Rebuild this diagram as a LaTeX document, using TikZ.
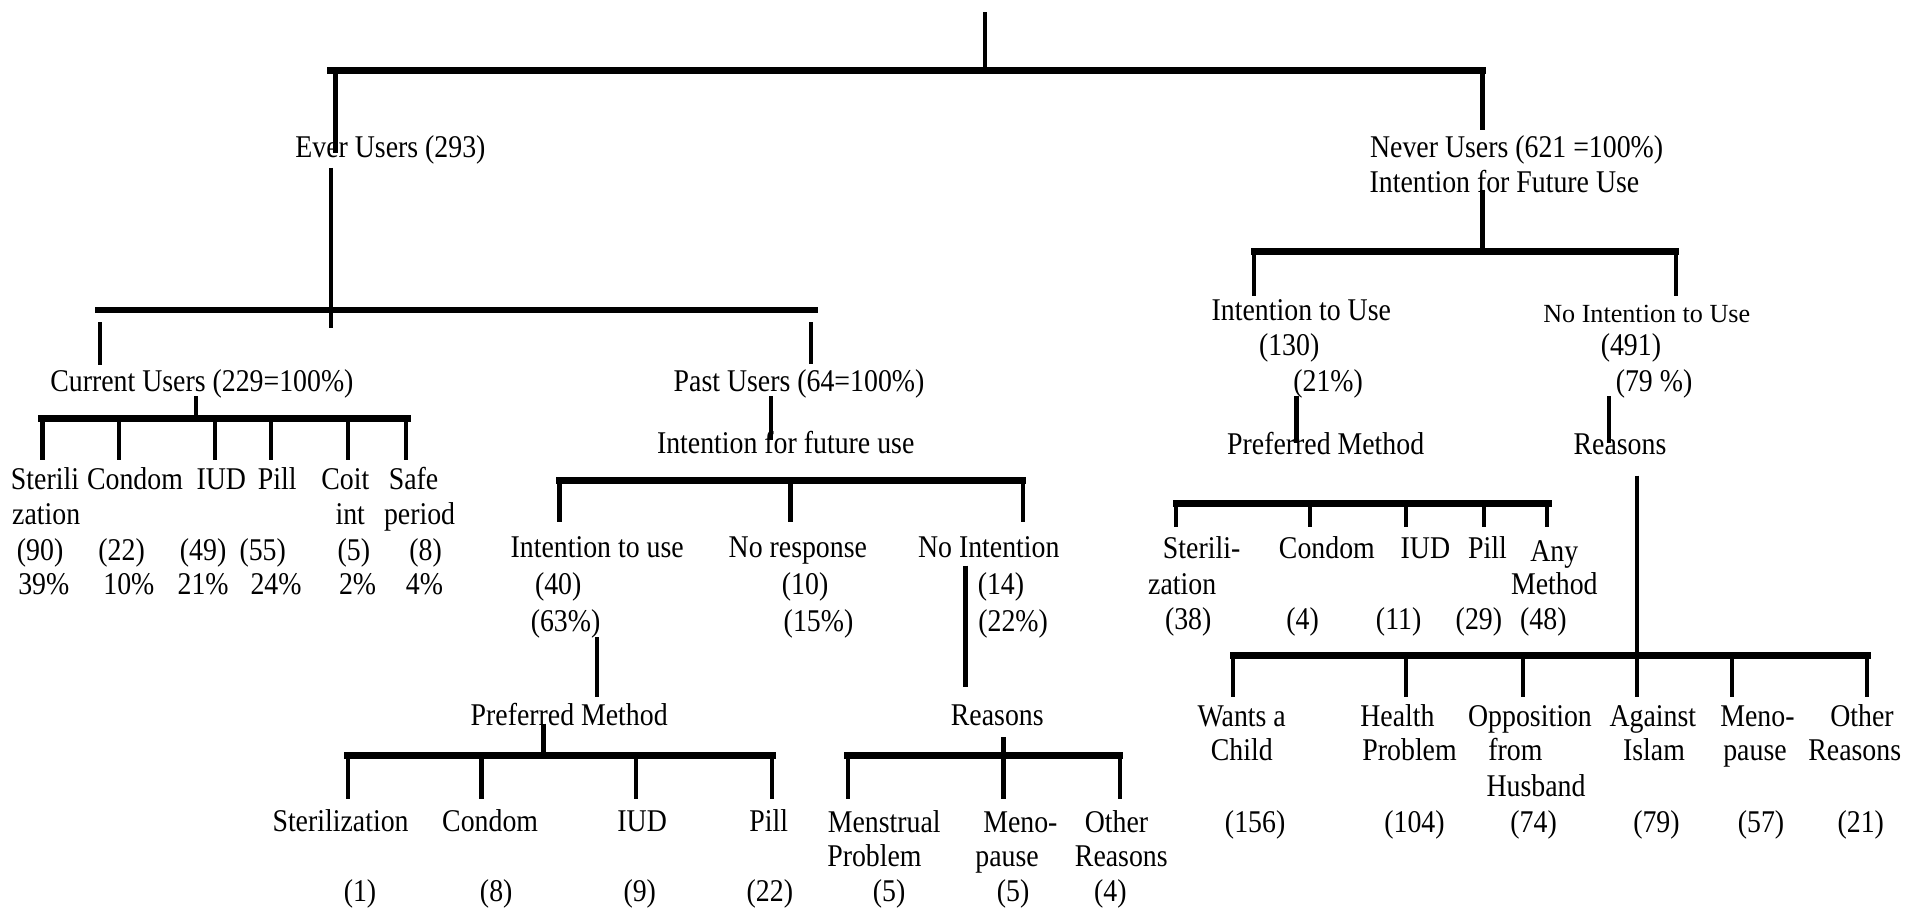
\documentclass[tikz,border=0pt]{standalone}
\usepackage{graphicx}
\usepackage{fontspec}
\setmainfont{Liberation Serif}
\newcommand\sqz[1]{\scalebox{0.88}[1]{#1}}
\begin{document}
\begin{tikzpicture}[x=1pt,y=-1pt,
  lbl/.style={inner sep=0pt,anchor=center,text height=16pt,text depth=3pt,font=\fontsize{26}{28}\selectfont},
  sml/.style={lbl,font=\fontsize{21.5}{24}\selectfont},
  bar/.style={line width=5.5pt,line cap=rect},
  stem/.style={line width=3.6pt}]
\fill[white] (0,0) rectangle (1568,748);
\useasboundingbox (0,0) rectangle (1568,748);

% ---------- top level ----------
\coordinate (rootT) at (810,10);
\coordinate (rootB) at (810,58);
\coordinate (topL) at (272,58);
\coordinate (topR) at (1219,58);
\draw[stem] (rootT) -- (rootB);
\draw[bar] (topL) -- (topR);

\node[lbl] (ever) at (321,123) {\sqz{Ever Users (293)}};
\coordinate (everA) at (276,58);
\coordinate (everB) at (276,126);
\coordinate (everC) at (272,138);
\coordinate (everD) at (272,270);
\draw[stem] (everA) -- (everB);
\draw[stem] (everC) -- (everD);

\coordinate (neverA) at (1219,58);
\coordinate (neverB) at (1219,107);
\draw[stem] (neverA) -- (neverB);
\node[lbl] (never) at (1247,123) {\sqz{Never Users (621 =100\%)}};
\node[lbl] (neverInt) at (1237,152) {\sqz{Intention for Future Use}};

% ---------- Ever users split ----------
\coordinate (b2L) at (81,255);
\coordinate (b2R) at (670,255);
\draw[bar] (b2L) -- (b2R);
\coordinate (curA) at (82,265); \coordinate (curB) at (82,300);
\coordinate (pastA) at (667,265); \coordinate (pastB) at (667,299);
\draw[stem] (curA) -- (curB);
\draw[stem] (pastA) -- (pastB);
\node[lbl] (cur) at (166,315) {\sqz{Current Users (229=100\%)}};
\node[lbl] (past) at (657,315) {\sqz{Past Users (64=100\%)}};

% ---------- Current users ----------
\coordinate (cs1) at (161,326); \coordinate (cs2) at (161,344);
\draw[stem] (cs1) -- (cs2);
\coordinate (cbL) at (34,344); \coordinate (cbR) at (335,344);
\draw[bar] (cbL) -- (cbR);
\foreach \n/\x in {c1/35,c2/98,c3/177,c4/223,c5/286,c6/334}{
  \coordinate (\n t) at (\x,344); \coordinate (\n b) at (\x,378);
  \draw[stem] (\n t) -- (\n b);
}
\node[lbl] (cuSt1) at (37,396) {\sqz{Sterili}};
\node[lbl] (cuSt2) at (38,425) {\sqz{zation}};
\node[lbl] (cuCo) at (111,396) {\sqz{Condom}};
\node[lbl] (cuIu) at (182,396) {\sqz{IUD}};
\node[lbl] (cuPi) at (228,396) {\sqz{Pill}};
\node[lbl] (cuCi1) at (284,396) {\sqz{Coit}};
\node[lbl] (cuCi2) at (288,425) {\sqz{int}};
\node[lbl] (cuSa1) at (340,396) {\sqz{Safe}};
\node[lbl] (cuSa2) at (345,425) {\sqz{period}};
\node[lbl] (cuN1) at (33,454) {\sqz{(90)}};
\node[lbl] (cuN2) at (100,454) {\sqz{(22)}};
\node[lbl] (cuN3) at (167,454) {\sqz{(49)}};
\node[lbl] (cuN4) at (216,454) {\sqz{(55)}};
\node[lbl] (cuN5) at (291,454) {\sqz{(5)}};
\node[lbl] (cuN6) at (350,454) {\sqz{(8)}};
\node[lbl] (cuP1) at (36,482) {\sqz{39\%}};
\node[lbl] (cuP2) at (106,482) {\sqz{10\%}};
\node[lbl] (cuP3) at (167,482) {\sqz{21\%}};
\node[lbl] (cuP4) at (227,482) {\sqz{24\%}};
\node[lbl] (cuP5) at (294,482) {\sqz{2\%}};
\node[lbl] (cuP6) at (349,482) {\sqz{4\%}};

% ---------- Past users ----------
\coordinate (ps1) at (634,326); \coordinate (ps2) at (634,362);
\draw[stem] (ps1) -- (ps2);
\node[lbl] (pastInt) at (646,366) {\sqz{Intention for future use}};
\coordinate (pbL) at (460,395); \coordinate (pbR) at (841,395);
\draw[bar] (pbL) -- (pbR);
\foreach \n/\x in {p1/460,p2/650,p3/841}{
  \coordinate (\n t) at (\x,395); \coordinate (\n b) at (\x,429);
  \draw[stem] (\n t) -- (\n b);
}
\node[lbl] (paI) at (491,452) {\sqz{Intention to use}};
\node[lbl] (paI2) at (459,482) {\sqz{(40)}};
\node[lbl] (paI3) at (465,513) {\sqz{(63\%)}};
\node[lbl] (paR) at (656,452) {\sqz{No response}};
\node[lbl] (paR2) at (662,482) {\sqz{(10)}};
\node[lbl] (paR3) at (673,513) {\sqz{(15\%)}};
\node[lbl] (paN) at (813,452) {\sqz{No Intention}};
\node[lbl] (paN2) at (823,482) {\sqz{(14)}};
\node[lbl] (paN3) at (833,513) {\sqz{(22\%)}};

% past: preferred method
\coordinate (pis1) at (491,524); \coordinate (pis2) at (491,573);
\draw[stem] (pis1) -- (pis2);
\node[lbl] (paPM) at (468,590) {\sqz{Preferred Method}};
\coordinate (pms1) at (447,595); \coordinate (pms2) at (447,621);
\draw[stem] (pms1) -- (pms2);
\coordinate (pmbL) at (286,621); \coordinate (pmbR) at (635,621);
\draw[bar] (pmbL) -- (pmbR);
\foreach \n/\x in {m1/286,m2/396,m3/523,m4/635}{
  \coordinate (\n t) at (\x,621); \coordinate (\n b) at (\x,657);
  \draw[stem] (\n t) -- (\n b);
}
\node[lbl] (pmSt) at (280,677) {\sqz{Sterilization}};
\node[lbl] (pmCo) at (403,677) {\sqz{Condom}};
\node[lbl] (pmIu) at (528,677) {\sqz{IUD}};
\node[lbl] (pmPi) at (632,677) {\sqz{Pill}};
\node[lbl] (pmN1) at (296,735) {\sqz{(1)}};
\node[lbl] (pmN2) at (408,735) {\sqz{(8)}};
\node[lbl] (pmN3) at (526,735) {\sqz{(9)}};
\node[lbl] (pmN4) at (633,735) {\sqz{(22)}};

% past: reasons
\coordinate (pns1) at (794,465); \coordinate (pns2) at (794,565);
\draw[stem] (pns1) -- (pns2);
\node[lbl] (paRe) at (820,590) {\sqz{Reasons}};
\coordinate (prs1) at (825,606); \coordinate (prs2) at (825,657);
\draw[stem] (prs1) -- (prs2);
\coordinate (prbL) at (697,621); \coordinate (prbR) at (921,621);
\draw[bar] (prbL) -- (prbR);
\foreach \n/\x in {q1/697,q3/921}{
  \coordinate (\n t) at (\x,621); \coordinate (\n b) at (\x,657);
  \draw[stem] (\n t) -- (\n b);
}
\node[lbl] (prM1) at (727,678) {\sqz{Menstrual}};
\node[lbl] (prM2) at (719,706) {\sqz{Problem}};
\node[lbl] (prP1) at (839,678) {\sqz{Meno-}};
\node[lbl] (prP2) at (828,706) {\sqz{pause}};
\node[lbl] (prO1) at (918,678) {\sqz{Other}};
\node[lbl] (prO2) at (922,706) {\sqz{Reasons}};
\node[lbl] (prN1) at (731,735) {\sqz{(5)}};
\node[lbl] (prN2) at (833,735) {\sqz{(5)}};
\node[lbl] (prN3) at (913,735) {\sqz{(4)}};

% ---------- Never users ----------
\coordinate (ns1) at (1219,156); \coordinate (ns2) at (1219,207);
\draw[stem] (ns1) -- (ns2);
\coordinate (nbL) at (1031,207); \coordinate (nbR) at (1378,207);
\draw[bar] (nbL) -- (nbR);
\coordinate (nd1t) at (1031,207); \coordinate (nd1b) at (1031,243);
\coordinate (nd2t) at (1378,207); \coordinate (nd2b) at (1378,243);
\draw[stem] (nd1t) -- (nd1b);
\draw[stem] (nd2t) -- (nd2b);
\node[lbl] (nvI) at (1070,257) {\sqz{Intention to Use}};
\node[lbl] (nvI2) at (1060,286) {\sqz{(130)}};
\node[lbl] (nvI3) at (1092,315) {\sqz{(21\%)}};
\node[sml] (nvN) at (1354,259) {No Intention to Use};
\node[lbl] (nvN2) at (1341,286) {\sqz{(491)}};
\node[lbl] (nvN3) at (1360,315) {\sqz{(79 \%)}};

\coordinate (nis1) at (1066,326); \coordinate (nis2) at (1066,364);
\draw[stem] (nis1) -- (nis2);
\node[lbl] (nvPM) at (1090,367) {\sqz{Preferred Method}};
\coordinate (nns1) at (1323,326); \coordinate (nns2) at (1323,364);
\draw[stem] (nns1) -- (nns2);
\node[lbl] (nvRe) at (1332,367) {\sqz{Reasons}};

% never: preferred method
\coordinate (npbL) at (967,414); \coordinate (npbR) at (1273,414);
\draw[bar] (npbL) -- (npbR);
\foreach \n/\x in {k1/967,k2/1077,k3/1156,k4/1220,k5/1272}{
  \coordinate (\n t) at (\x,414); \coordinate (\n b) at (\x,433);
  \draw[stem] (\n t) -- (\n b);
}
\node[lbl] (npSt1) at (988,453) {\sqz{Sterili-}};
\node[lbl] (npSt2) at (972,482) {\sqz{zation}};
\node[lbl] (npSt3) at (977,511) {\sqz{(38)}};
\node[lbl] (npCo) at (1091,453) {\sqz{Condom}};
\node[lbl] (npCo2) at (1071,511) {\sqz{(4)}};
\node[lbl] (npIu) at (1172,453) {\sqz{IUD}};
\node[lbl] (npIu2) at (1150,511) {\sqz{(11)}};
\node[lbl] (npPi) at (1223,453) {\sqz{Pill}};
\node[lbl] (npPi2) at (1216,511) {\sqz{(29)}};
\node[lbl] (npAn1) at (1278,455) {\sqz{Any}};
\node[lbl] (npAn2) at (1278,482) {\sqz{Method}};
\node[lbl] (npAn3) at (1269,511) {\sqz{(48)}};

% never: reasons
\coordinate (nrs1) at (1346,391); \coordinate (nrs2) at (1346,573);
\draw[stem] (nrs1) -- (nrs2);
\coordinate (nrbL) at (1014,539); \coordinate (nrbR) at (1536,539);
\draw[bar] (nrbL) -- (nrbR);
\foreach \n/\x in {w1/1014,w2/1156,w3/1252,w5/1424,w6/1535}{
  \coordinate (\n t) at (\x,539); \coordinate (\n b) at (\x,573);
  \draw[stem] (\n t) -- (\n b);
}
\node[lbl] (nrW1) at (1021,591) {\sqz{Wants a}};
\node[lbl] (nrW2) at (1021,619) {\sqz{Child}};
\node[lbl] (nrH1) at (1149,591) {\sqz{Health}};
\node[lbl] (nrH2) at (1159,619) {\sqz{Problem}};
\node[lbl] (nrO1) at (1258,591) {\sqz{Opposition}};
\node[lbl] (nrO2) at (1246,619) {\sqz{from}};
\node[lbl] (nrO3) at (1263,648) {\sqz{Husband}};
\node[lbl] (nrA1) at (1359,591) {\sqz{Against}};
\node[lbl] (nrA2) at (1360,619) {\sqz{Islam}};
\node[lbl] (nrM1) at (1445,591) {\sqz{Meno-}};
\node[lbl] (nrM2) at (1443,619) {\sqz{pause}};
\node[lbl] (nrX1) at (1531,591) {\sqz{Other}};
\node[lbl] (nrX2) at (1525,619) {\sqz{Reasons}};
\node[lbl] (nrN1) at (1032,678) {\sqz{(156)}};
\node[lbl] (nrN2) at (1163,678) {\sqz{(104)}};
\node[lbl] (nrN3) at (1261,678) {\sqz{(74)}};
\node[lbl] (nrN4) at (1362,678) {\sqz{(79)}};
\node[lbl] (nrN5) at (1448,678) {\sqz{(57)}};
\node[lbl] (nrN6) at (1530,678) {\sqz{(21)}};
\end{tikzpicture}
\end{document}
